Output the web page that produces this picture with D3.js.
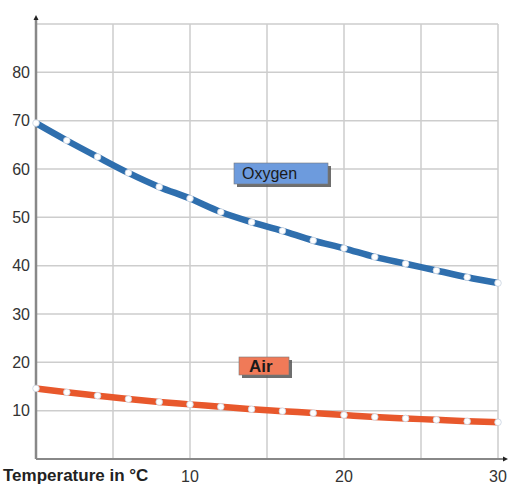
<!DOCTYPE html>
<html><head><meta charset="utf-8">
<script src="https://cdn.jsdelivr.net/npm/d3@7"></script>
<style>body{margin:0;background:#fff}svg{display:block}</style>
</head><body>
<svg id="c" width="510" height="486"></svg>
<script>
const temps = [0,2,4,6,8,10,12,14,16,18,20,22,24,26,28,30];
const oxygen = [69.5,65.9,62.5,59.2,56.3,53.9,51.1,49.0,47.2,45.2,43.6,41.8,40.4,39.0,37.6,36.4];
const air = [14.6,13.8,13.1,12.4,11.8,11.3,10.8,10.3,9.9,9.5,9.1,8.7,8.4,8.1,7.8,7.6];
const yTicks = [10,20,30,40,50,60,70,80];
const xTicks = [10,20,30];
const xTitle = "Temperature in °C";
const seriesNames = ["Oxygen","Air"];

const svg = d3.select("#c");
const x = d3.scaleLinear().domain([0,30]).range([36,498]);
const y = d3.scaleLinear().domain([0,90]).range([459,24]);
const FONT = "Liberation Sans, Arial, sans-serif";

// grid
svg.append("g").selectAll("line").data(d3.range(5,31,5)).join("line")
  .attr("x1",d=>x(d)).attr("x2",d=>x(d)).attr("y1",y(90)).attr("y2",y(0))
  .attr("stroke","#cdcdcd").attr("stroke-width",1.5);
svg.append("g").selectAll("line").data(d3.range(10,91,10)).join("line")
  .attr("x1",x(0)).attr("x2",x(30)).attr("y1",d=>y(d)).attr("y2",d=>y(d))
  .attr("stroke","#cdcdcd").attr("stroke-width",1.5);

// axes
svg.append("line").attr("x1",x(0)).attr("x2",x(0)).attr("y1",18).attr("y2",y(0))
  .attr("stroke","#888").attr("stroke-width",2.5);
svg.append("line").attr("x1",x(0)).attr("x2",506).attr("y1",y(0)).attr("y2",y(0))
  .attr("stroke","#888").attr("stroke-width",2);
svg.append("path").attr("d",`M${x(0)-2.5},20 L${x(0)},15 L${x(0)+2.5},20 Z`).attr("fill","#222");
svg.append("path").attr("d",`M503,${y(0)-2.5} L508,${y(0)} L503,${y(0)+2.5} Z`).attr("fill","#222");

// tick labels
svg.append("g").selectAll("text").data(yTicks).join("text")
  .attr("x",30).attr("y",d=>y(d)).attr("dy","0.36em").attr("text-anchor","end")
  .attr("font-family",FONT).attr("font-size",16).attr("fill","#333")
  .text(d=>d);
svg.append("g").selectAll("text").data(xTicks).join("text")
  .attr("x",d=>x(d)).attr("y",482).attr("text-anchor","middle")
  .attr("font-family",FONT).attr("font-size",16).attr("fill","#333")
  .text(d=>d);
svg.append("text").attr("x",3).attr("y",481)
  .attr("font-family",FONT).attr("font-size",17).attr("font-weight","bold").attr("fill","#222")
  .text(xTitle);

// lines
const line = d3.line().x((d,i)=>x(temps[i])).y(d=>y(d)).curve(d3.curveMonotoneX);
function drawSeries(vals,color){
  svg.append("path").attr("d",line(vals)).attr("fill","none")
    .attr("stroke",color).attr("stroke-width",6.5).attr("stroke-linecap","butt");
  svg.append("g").selectAll("circle").data(vals).join("circle")
    .attr("cx",(d,i)=>x(temps[i])).attr("cy",d=>y(d)).attr("r",3.3)
    .attr("fill","#fff").attr("stroke","#c8d2e0").attr("stroke-width",0.8);
}
drawSeries(oxygen,"#2f6fae");
drawSeries(air,"#e8582c");

// labels
function label(x0,y0,w,h,fill,txt,bold){
  svg.append("rect").attr("x",x0+3).attr("y",y0+3).attr("width",w).attr("height",h).attr("fill","#555").attr("opacity",0.85);
  svg.append("rect").attr("x",x0).attr("y",y0).attr("width",w).attr("height",h).attr("fill",fill).attr("stroke","#7a7a7a").attr("stroke-width",0.6);
  svg.append("text").attr("x",x0+(bold?10:8)).attr("y",y0+h/2).attr("dy","0.36em")
    .attr("font-family",FONT).attr("font-size",bold?17:16)
    .attr("font-weight",bold?"bold":"normal").attr("fill","#1a1a1a").text(txt);
}
label(234,163,94,21,"#6d9bdd",seriesNames[0],false);
label(239,357,50,18,"#f07a58",seriesNames[1],true);
</script>
</body></html>
